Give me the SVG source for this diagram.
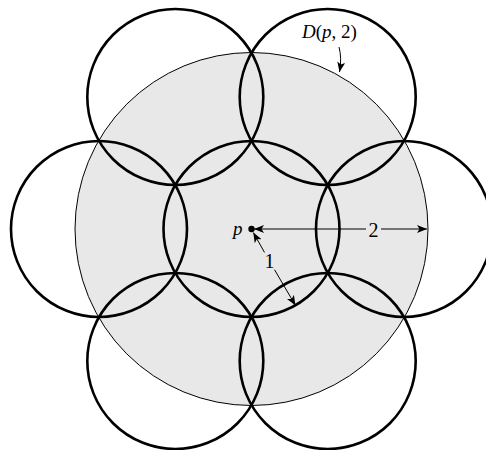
<svg xmlns="http://www.w3.org/2000/svg" width="486" height="450" viewBox="0 0 486 450">
<style>
.disk{fill:none;stroke:#000;stroke-width:2.6}
.big{fill:#e8e8e8;stroke:#000;stroke-width:1}
.lbl{font-family:"Liberation Serif","DejaVu Serif",serif;font-size:19px;fill:#000}
.num{font-size:20px}
.it{font-style:italic}
.conn{fill:none;stroke:#000;stroke-width:1}
</style>
<defs>
<marker id="ah" viewBox="0 0 10 8" refX="10" refY="4" markerWidth="10" markerHeight="8" markerUnits="userSpaceOnUse" orient="auto-start-reverse">
<path d="M0,0 L10,4 L0,8 L2.5,4 Z" fill="#000"/>
</marker>
</defs>
<g id="region-D">
<circle class="big" cx="251.5" cy="229" r="176.5"/>
</g>
<g id="disk-center"><circle class="disk" cx="251.5" cy="229" r="88"/></g>
<g id="disk-right"><circle class="disk" cx="404" cy="229" r="88"/></g>
<g id="disk-left"><circle class="disk" cx="99" cy="229" r="88"/></g>
<g id="disk-top-left"><circle class="disk" cx="175.3" cy="97" r="88"/></g>
<g id="disk-top-right"><circle class="disk" cx="327.7" cy="97" r="88"/></g>
<g id="disk-bottom-left"><circle class="disk" cx="175.3" cy="361" r="88"/></g>
<g id="disk-bottom-right"><circle class="disk" cx="327.7" cy="361" r="88"/></g>
<g id="point-p">
<circle cx="251.5" cy="229" r="3.2" fill="#000"/>
<text class="lbl it" x="233" y="235">p</text>
</g>
<g id="connectors">
<line class="conn" x1="366" y1="229" x2="254" y2="229" marker-end="url(#ah)"/>
<line class="conn" x1="381" y1="229" x2="427" y2="229" marker-end="url(#ah)"/>
<line class="conn" x1="264.5" y1="252.4" x2="253.3" y2="232.5" marker-end="url(#ah)"/>
<line class="conn" x1="274.5" y1="269.7" x2="295.5" y2="305.5" marker-end="url(#ah)"/>
<path class="conn" d="M339,47 Q342,58 339.5,72" marker-end="url(#ah)"/>
</g>
<text class="lbl num" x="373.5" y="237" text-anchor="middle">2</text>
<text class="lbl num" x="269.5" y="268" text-anchor="middle">1</text>
<text class="lbl it" x="302" y="38">D<tspan font-style="normal">(</tspan>p<tspan font-style="normal">, 2)</tspan></text>
</svg>
